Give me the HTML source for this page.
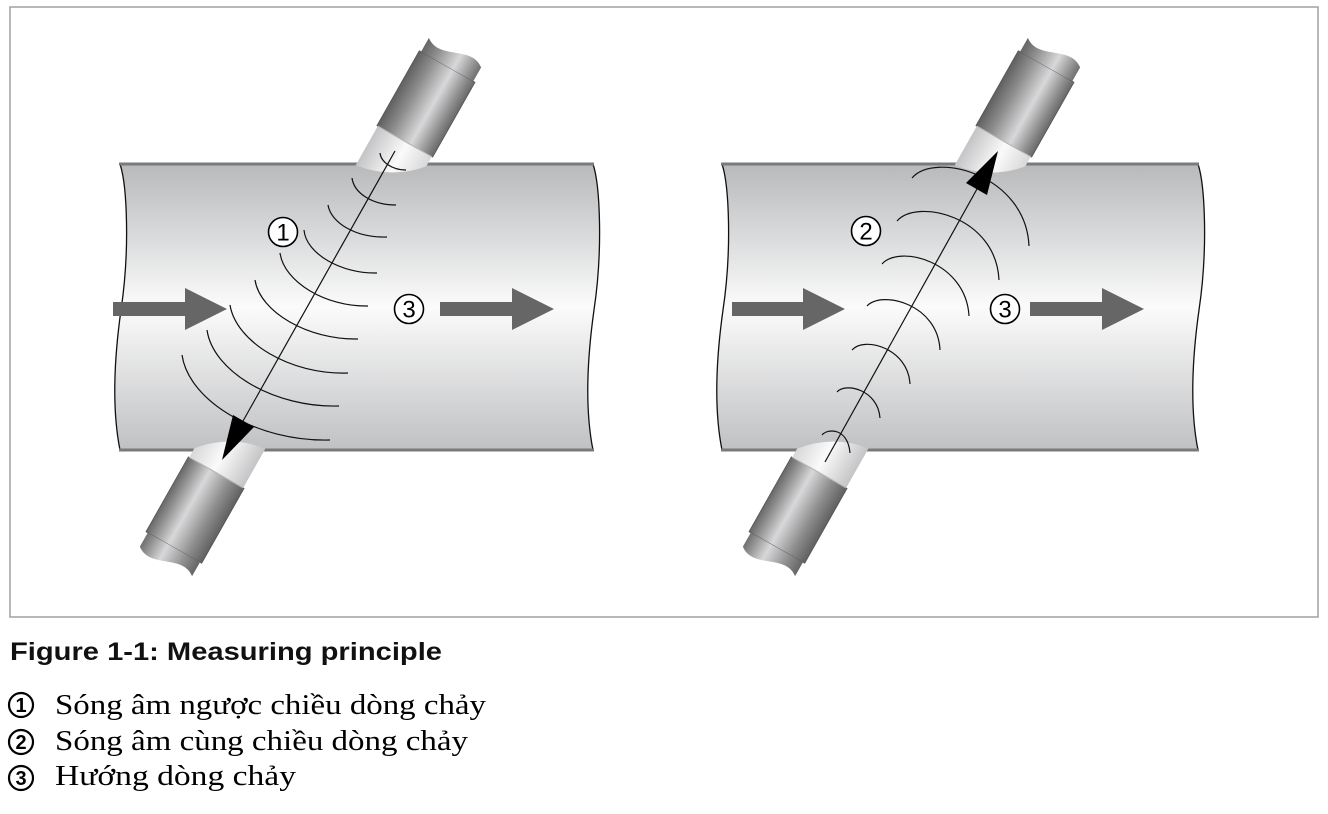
<!DOCTYPE html>
<html><head><meta charset="utf-8"><style>html,body{margin:0;padding:0;background:#fff}svg{display:block}</style></head>
<body>
<svg width="1328" height="814" viewBox="0 0 1328 814" xmlns="http://www.w3.org/2000/svg">
<defs>
<linearGradient id="pg" x1="0" y1="164" x2="0" y2="450" gradientUnits="userSpaceOnUse">
<stop offset="0" stop-color="#b7b9bb"/><stop offset="0.5" stop-color="#fbfbfb"/><stop offset="1" stop-color="#c0c1c3"/>
</linearGradient>
<linearGradient id="tg" x1="-32" y1="0" x2="32" y2="0" gradientUnits="userSpaceOnUse">
<stop offset="0" stop-color="#606060"/><stop offset="0.25" stop-color="#8c8c8c"/><stop offset="0.6" stop-color="#d8d8da"/><stop offset="0.85" stop-color="#909090"/><stop offset="1" stop-color="#686868"/>
</linearGradient>
<linearGradient id="tipg" x1="-31" y1="0" x2="31" y2="0" gradientUnits="userSpaceOnUse">
<stop offset="0" stop-color="#c4c4c6"/><stop offset="0.55" stop-color="#fafafa"/><stop offset="1" stop-color="#d8d8d8"/>
</linearGradient>
<g id="tr">
<rect x="-31" y="-26" width="62" height="52" fill="url(#tipg)"/>
<rect x="-32" y="-112" width="64" height="86" fill="url(#tg)" stroke="#555" stroke-width="0.8"/>
<path d="M-30,-112 V-128 C-11,-113 11,-143 30,-128 V-112 Z" fill="url(#tg)"/>
<path d="M-31,-26 H31" stroke="#bbb" stroke-width="1"/>
</g>
<clipPath id="cTL"><path d="M0,0 H1328 V165 H430 Q393,180 355,165 H0 Z"/></clipPath>
<clipPath id="cBL"><path d="M0,814 H1328 V449 H266 Q230,434 192,449 H0 Z"/></clipPath>
<clipPath id="cTR"><path d="M0,0 H1328 V165 H1029 Q992,180 954,165 H0 Z"/></clipPath>
<clipPath id="cBR"><path d="M0,814 H1328 V449 H870 Q834,434 796,449 H0 Z"/></clipPath>
</defs>
<rect x="10" y="7" width="1308" height="610" fill="#fff" stroke="#a0a0a0" stroke-width="1.5"/>

<path d="M120,164 H593 C600,185 603,250 594,310 C587,360 585,410 593,450 H120 C112,410 114,360 121,310 C130,250 127,185 120,164 Z" fill="url(#pg)"/>
<path d="M120,164 C127,185 130,250 121,310 C114,360 112,410 120,450" fill="none" stroke="#111" stroke-width="1.3"/>
<path d="M593,164 C600,185 603,250 594,310 C587,360 585,410 593,450" fill="none" stroke="#111" stroke-width="1.3"/>
<path d="M119,164 H594 M119,450 H594" stroke="#7a7a7a" stroke-width="3"/>
<g clip-path="url(#cTL)"><use href="#tr" transform="translate(392,164) rotate(29.5)"/></g>
<g clip-path="url(#cBL)"><use href="#tr" transform="translate(229,450) rotate(209.5)"/></g>

<path d="M722,164 H1198 C1205,185 1208,250 1199,310 C1192,360 1190,410 1198,450 H722 C714,410 716,360 723,310 C732,250 729,185 722,164 Z" fill="url(#pg)"/>
<path d="M722,164 C729,185 732,250 723,310 C716,360 714,410 722,450" fill="none" stroke="#111" stroke-width="1.3"/>
<path d="M1198,164 C1205,185 1208,250 1199,310 C1192,360 1190,410 1198,450" fill="none" stroke="#111" stroke-width="1.3"/>
<path d="M721,164 H1199 M721,450 H1199" stroke="#7a7a7a" stroke-width="3"/>
<g clip-path="url(#cTR)"><use href="#tr" transform="translate(991,164) rotate(29.5)"/></g>
<g clip-path="url(#cBR)"><use href="#tr" transform="translate(832,450) rotate(209.5)"/></g>

<g fill="#666">
<path d="M113,302 H185 V288 L227,309 L185,330 V316 H113 Z"/>
<path d="M440,302 H512 V288 L554,309 L512,330 V316 H440 Z"/>
<path d="M732,302 H803 V288 L845,309 L803,330 V316 H732 Z"/>
<path d="M1030,302 H1102 V288 L1144,309 L1102,330 V316 H1030 Z"/>
</g>

<g fill="none" stroke="#111" stroke-width="1.2">
<path d="M380,153 C381,162 392,170 406,170"/>
<path d="M352,178 C354,193 372,205 396,205"/>
<path d="M328,205 C331,223 356,238 387,237"/>
<path d="M304,230 C306,254 342,274 377,273"/>
<path d="M280,253 C284,282 326,307 368,306"/>
<path d="M255,280 C260,312 308,340 358,339"/>
<path d="M230,305 C236,342 290,375 348,373"/>
<path d="M207,330 C213,372 275,408 339,406"/>
<path d="M182,355 C189,402 258,442 330,440"/>
</g>
<line x1="395" y1="151" x2="243" y2="421" stroke="#111" stroke-width="1.2"/>
<path d="M222,460 L233,415 L254,427 Z" fill="#000"/>

<g fill="none" stroke="#111" stroke-width="1.2">
<path d="M822,435 C828,428 848,428 850,453"/>
<path d="M837,392 C846,382 878,390 880,418"/>
<path d="M852,350 C864,336 908,348 910,384"/>
<path d="M867,306 C882,290 938,304 940,350"/>
<path d="M882,264 C900,244 966,262 969,316"/>
<path d="M897,221 C917,198 996,216 999,280"/>
<path d="M912,178 C935,151 1026,175 1029,246"/>
</g>
<line x1="825" y1="462" x2="977" y2="189" stroke="#111" stroke-width="1.2"/>
<path d="M998,151 L966,183 L987,195 Z" fill="#000"/>

<g font-family="Liberation Sans, sans-serif" font-size="24" text-anchor="middle" fill="#000">
<circle cx="283" cy="232" r="14.5" fill="#fff" stroke="#000" stroke-width="1.6"/><text x="283" y="240.5">1</text>
<circle cx="409" cy="309" r="14.5" fill="#fff" stroke="#000" stroke-width="1.6"/><text x="409" y="317.5">3</text>
<circle cx="866" cy="231" r="14.5" fill="#fff" stroke="#000" stroke-width="1.6"/><text x="866" y="239.5">2</text>
<circle cx="1005" cy="309" r="14.5" fill="#fff" stroke="#000" stroke-width="1.6"/><text x="1005" y="317.5">3</text>
</g>

<text x="10" y="660" font-family="Liberation Sans, sans-serif" font-weight="bold" font-size="25" textLength="432" lengthAdjust="spacingAndGlyphs" fill="#111">Figure 1-1: Measuring principle</text>

<g font-family="Liberation Sans, sans-serif" font-size="20" font-weight="bold" text-anchor="middle" fill="#000">
<circle cx="21" cy="705" r="12" fill="none" stroke="#000" stroke-width="2.2"/><text x="21" y="712">1</text>
<circle cx="21" cy="742" r="12" fill="none" stroke="#000" stroke-width="2.2"/><text x="21" y="749">2</text>
<circle cx="21" cy="778" r="12" fill="none" stroke="#000" stroke-width="2.2"/><text x="21" y="785">3</text>
</g>
<g font-family="Liberation Serif, serif" font-size="29" fill="#000">
<text x="55" y="714" textLength="431" lengthAdjust="spacingAndGlyphs">Sóng âm ngược chiều dòng chảy</text>
<text x="55" y="750" textLength="413" lengthAdjust="spacingAndGlyphs">Sóng âm cùng chiều dòng chảy</text>
<text x="55" y="785" textLength="241" lengthAdjust="spacingAndGlyphs">Hướng dòng chảy</text>
</g>
</svg>
</body></html>
